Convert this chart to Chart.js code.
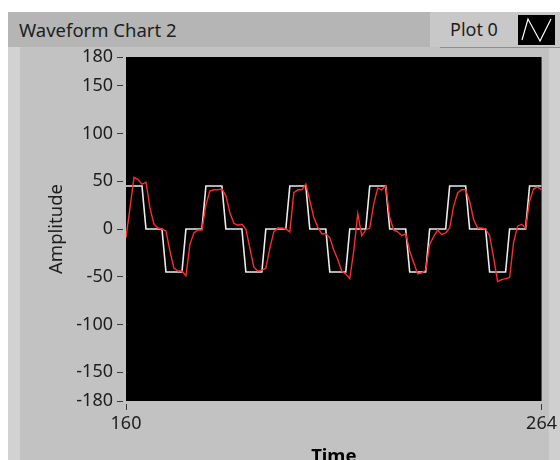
<!DOCTYPE html>
<html>
<head>
<meta charset="utf-8">
<title>Waveform Chart 2</title>
<script src="https://cdn.jsdelivr.net/npm/chart.js@4.4.1/dist/chart.umd.min.js"></script>
<style>
  html, body { margin: 0; padding: 0; width: 560px; height: 460px; overflow: hidden; background: #fff; }
  body { position: relative; font-family: "Noto Sans", sans-serif; color: #1e1e1e; }
  #panel { position: absolute; left: 8px; top: 12px; width: 552px; height: 448px; background: #c2c2c2; }
  #edge { position: absolute; left: 8px; top: 47px; width: 12px; height: 413px; background: #d2d2d2; }
  #rightedge { position: absolute; left: 549px; top: 47px; width: 11px; height: 413px; background: #cfcfcf; }
  #titlebar { position: absolute; left: 8px; top: 12px; width: 422px; height: 35px; background: #b5b5b5; }
  #title { position: absolute; left: 19px; top: 12px; height: 35px; line-height: 35px; font-size: 18.5px; }
  #legend { position: absolute; left: 430px; top: 12px; width: 130px; height: 35px; background: #c8c8c8; }
  #legend .shadow { position: absolute; left: 10px; top: 35px; width: 120px; height: 1px; background: #8e8e8e; }
  #legend span { position: absolute; left: 20px; top: 0; line-height: 35px; font-size: 18px; }
  #legend svg { position: absolute; left: 88px; top: 3px; }
  #chartbox { position: absolute; left: 0; top: 0; }
</style>
</head>
<body>
<div id="panel"></div>
<div id="edge"></div>
<div id="rightedge"></div>
<div id="titlebar"></div>
<div id="title">Waveform Chart 2</div>
<div id="legend">
  <div class="shadow"></div>
  <span>Plot 0</span>
  <svg width="37" height="30" viewBox="0 0 37 30">
    <rect x="0" y="0" width="37" height="30" fill="#000"/>
    <polyline points="4,25 10,4 22,26 33,4" fill="none" stroke="#fff" stroke-width="1.2"/>
  </svg>
</div>
<div id="chartbox"><canvas id="waveChart" width="560" height="470"></canvas></div>

<script>
// time axis: first sample and step
const t0 = 160;
const dt = 1;
const xTicks = [160, 264];
const yTicks = [180, 150, 100, 50, 0, -50, -100, -150, -180];

// Plot 0 (white) - stepped reference
const plot0 = [
  45, 45, 45, 45, 45, 0, 0, 0, 0, 0,
  -45, -45, -45, -45, -45, 0, 0, 0, 0, 0,
  45, 45, 45, 45, 45, 0, 0, 0, 0, 0,
  -45, -45, -45, -45, -45, 0, 0, 0, 0, 0, 0,
  45, 45, 45, 45, 45, 0, 0, 0, 0, 0,
  -45, -45, -45, -45, -45, 0, 0, 0, 0, 0,
  45, 45, 45, 45, 45, 0, 0, 0, 0, 0,
  -45, -45, -45, -45, -45, 0, 0, 0, 0, 0,
  45, 45, 45, 45, 45, 0, 0, 0, 0, 0,
  -45, -45, -45, -45, -45, 0, 0, 0, 0, 0,
  45, 45, 45, 45
];

// Plot 1 (red) - measured response
const plot1 = [
  -9, 22, 54, 52, 47, 49, 22, 5, 1, 0,
  -2, -23, -41, -44, -44, -49, -16, -4, -1, -1,
  25, 40, 41, 41, 42, 35, 17, 6, 4, 5,
  0, -20, -40, -44, -43, -41, -20, -3, 1, 1,
  0, -3, 38, 41, 41, 47, 30, 12, 2, -5,
  -5, -9, -22, -32, -44, -47, -52, -23, 16, -7,
  -1, 1, 26, 43, 41, 45, 12, -1, -3, -7,
  -5, -23, -35, -47, -46, -43, -16, -8, -1, -6,
  -4, 1, 24, 38, 41, 41, 29, 10, 1, 1,
  0, -7, -30, -55, -53, -52, -51, -14, 3, 5,
  1, 29, 42, 44, 41
];

function toPoints(values) {
  return values.map((v, i) => ({ x: t0 + i * dt, y: v }));
}

const plotBackground = {
  id: "plotBackground",
  beforeDraw(chart) {
    const { ctx, chartArea } = chart;
    ctx.save();
    ctx.fillStyle = "#000";
    ctx.fillRect(chartArea.left, chartArea.top, chartArea.right - chartArea.left, chartArea.bottom - chartArea.top);
    ctx.restore();
  }
};

const labelFont = { family: "Noto Sans", size: 18 };

new Chart(document.getElementById("waveChart").getContext("2d"), {
  type: "line",
  data: {
    datasets: [
      {
        label: "Plot 0",
        data: toPoints(plot0),
        borderColor: "#ececec",
        borderWidth: 1.6,
        pointRadius: 0,
        tension: 0,
        order: 2
      },
      {
        label: "Plot 1",
        data: toPoints(plot1),
        borderColor: "#ff2a2a",
        borderWidth: 1.4,
        pointRadius: 0,
        tension: 0,
        order: 1
      }
    ]
  },
  options: {
    responsive: false,
    animation: false,
    layout: { padding: { left: 43, top: 57, right: 18, bottom: 0 } },
    plugins: { legend: { display: false }, tooltip: { enabled: false } },
    scales: {
      x: {
        type: "linear",
        min: 160,
        max: 264,
        afterFit: function (scale) { scale.height = 69; },
        afterBuildTicks: function (scale) { scale.ticks = xTicks.map(v => ({ value: v })); },
        ticks: { color: "#1e1e1e", font: labelFont, padding: 3, maxRotation: 0, autoSkip: false },
        grid: {
          drawOnChartArea: false,
          tickLength: 9,
          tickColor: "#3a3a3a",
          tickWidth: 1,
          tickBorderDash: [6, 3],
          tickBorderDashOffset: 6
        },
        border: { display: false },
        title: { display: true, text: "Time", color: "#000", font: { family: "Noto Sans", size: 18.5, weight: "bold" }, padding: { top: 0, bottom: 2 } }
      },
      y: {
        min: -180,
        max: 180,
        afterFit: function (scale) { scale.width = 83; },
        afterBuildTicks: function (scale) { scale.ticks = yTicks.map(v => ({ value: v })); },
        ticks: { color: "#1e1e1e", font: labelFont, padding: 4, autoSkip: false },
        grid: {
          drawOnChartArea: false,
          tickLength: 9,
          tickColor: "#3a3a3a",
          tickWidth: 1,
          tickBorderDash: [6, 3]
        },
        border: { display: false },
        title: { display: true, text: "Amplitude", color: "#1e1e1e", font: { family: "Noto Sans", size: 18.5 }, padding: { top: 3, bottom: 4 } }
      }
    }
  },
  plugins: [plotBackground]
});
</script>
</body>
</html>
